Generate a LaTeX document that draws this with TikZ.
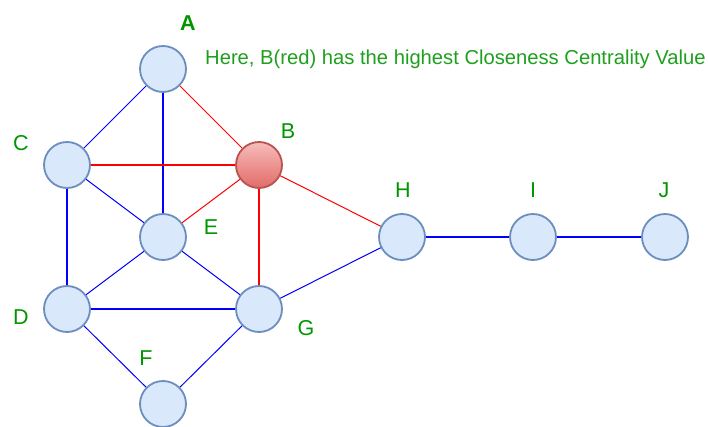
\documentclass[tikz,border=0pt]{standalone}
\usepackage{fontspec}
\setmainfont{Liberation Sans}
\begin{document}
\begin{tikzpicture}[x=1pt,y=-1pt,
  vtx/.style={circle,minimum size=46pt,inner sep=0pt,draw=nodeborder,line width=1.8pt,fill=nodefill},
  redvtx/.style={circle,minimum size=46pt,inner sep=0pt,draw=redborder,line width=1.8pt,top color=redtop,bottom color=redbot},
  lbl/.style={text=lblgreen,inner sep=0pt,font=\fontsize{21.5}{24}\selectfont},
  thinb/.style={draw=blue,line width=1pt},
  thickb/.style={draw=blue,line width=2.8pt},
  thinr/.style={draw=red,line width=1pt},
  thickr/.style={draw=red,line width=2.5pt}]
\definecolor{nodefill}{HTML}{DAE8FC}
\definecolor{nodeborder}{HTML}{6C8EBF}
\definecolor{redborder}{HTML}{B85450}
\definecolor{redtop}{HTML}{F6BDBA}
\definecolor{redbot}{HTML}{E26B68}
\definecolor{lblgreen}{RGB}{0,150,0}
\definecolor{txtgreen}{RGB}{30,160,30}
\useasboundingbox (0,0) rectangle (708,427);
\clip (0,0) rectangle (708,427);
\fill[white] (0,0) rectangle (708,427);
% nodes
\node[vtx] (A) at (163,69) {};
\node[redvtx] (B) at (259,165) {};
\node[vtx] (C) at (67,165) {};
\node[vtx] (E) at (163,237) {};
\node[vtx] (D) at (67,309) {};
\node[vtx] (G) at (259,309) {};
\node[vtx] (F) at (163,404) {};
\node[vtx] (H) at (402,237) {};
\node[vtx] (I) at (533,237) {};
\node[vtx] (J) at (665,237) {};
% edges
\draw[thinb] (A) -- (C);
\draw[thickb] (A) -- (E);
\draw[thinr] (A) -- (B);
\draw[thickr] (C) -- (B);
\draw[thinb] (C) -- (E);
\draw[thickb] (C) -- (D);
\draw[thinr] (B) -- (E);
\draw[thickr] (B) -- (G);
\draw[thinr] (B) -- (H);
\draw[thinb] (E) -- (D);
\draw[thinb] (E) -- (G);
\draw[thickb] (D) -- (G);
\draw[thinb] (D) -- (F);
\draw[thinb] (G) -- (F);
\draw[thinb] (G) -- (H);
\draw[thickb] (H) -- (I);
\draw[thickb] (I) -- (J);
% labels
\node[lbl,font=\fontsize{21.5}{24}\selectfont\bfseries] (lA) at (188,23) {A};
\node[lbl] (lB) at (288,131) {B};
\node[lbl] (lC) at (21,143) {C};
\node[lbl] (lE) at (211,227) {E};
\node[lbl] (lD) at (21,317) {D};
\node[lbl] (lG) at (306,328) {G};
\node[lbl] (lF) at (146,358) {F};
\node[lbl] (lH) at (403,190) {H};
\node[lbl] (lI) at (533,190) {I};
\node[lbl] (lJ) at (664,190) {J};
\node[anchor=base west,inner sep=0pt,text=txtgreen,font=\fontsize{20.2}{24}\selectfont] (note) at (205,65) {Here, B(red) has the highest Closeness Centrality Value};
\end{tikzpicture}
\end{document}
